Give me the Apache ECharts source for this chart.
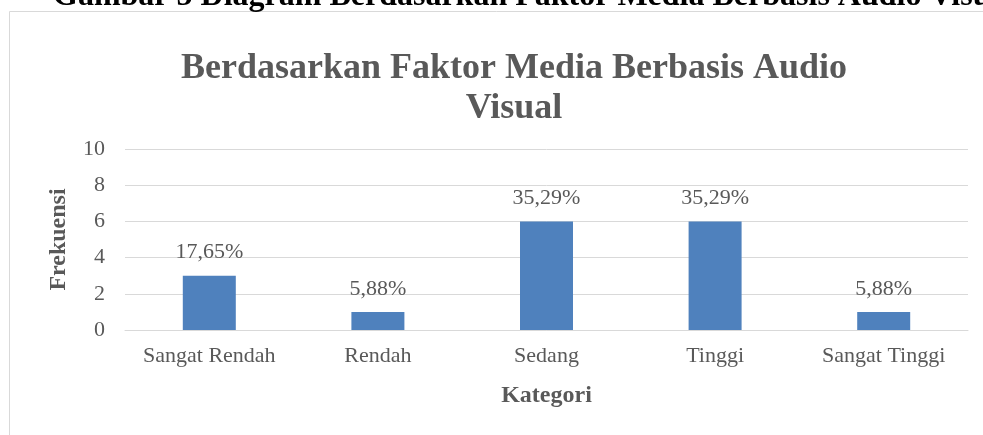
<!DOCTYPE html>
<html>
<head>
<meta charset="utf-8">
<script src="https://cdn.jsdelivr.net/npm/echarts@6/dist/echarts.min.js"></script>
<style>
  html, body { margin: 0; padding: 0; background: #fff; }
  #barChart { width: 983px; height: 435px; }
</style>
</head>
<body>
<div id="barChart"></div>
<script>
const categories = ['Sangat Rendah', 'Rendah', 'Sedang', 'Tinggi', 'Sangat Tinggi']
const frekuensi = [3, 1, 6, 6, 1]
const persen = ['17,65%', '5,88%', '35,29%', '35,29%', '5,88%']
const yTicks = [0, 2, 4, 6, 8, 10]

const serif = '"Liberation Serif", "Times New Roman", serif'
const grey = '#595959'

const chart = echarts.init(document.getElementById('barChart'))
chart.setOption({
  animation: false,
  textStyle: { fontFamily: serif },
  graphic: [
    // border of the chart box (only top/left visible)
    {
      type: 'rect',
      shape: { x: 9.5, y: 11.5, width: 1200, height: 800 },
      style: { fill: 'none', stroke: '#d9d9d9', lineWidth: 1 },
      silent: true,
    },
    // caption above the chart, clipped by the page
    {
      type: 'text',
      left: 53,
      top: -19,
      style: {
        text: 'Gambar 5 Diagram Berdasarkan Faktor Media Berbasis Audio Visual',
        font: 'bold 32px ' + serif,
        fill: '#000',
      },
    },
  ],
  title: {
    text: 'Berdasarkan Faktor Media Berbasis Audio\nVisual',
    left: 509,
    top: 44,
    textAlign: 'center',
    textStyle: {
      fontFamily: serif,
      fontSize: 36,
      fontWeight: 'bold',
      color: grey,
      lineHeight: 40,
    },
  },
  grid: {
    left: 125,
    right: 15,
    top: 149,
    bottom: 105,
  },
  xAxis: {
    type: 'category',
    data: categories,
    name: 'Kategori',
    nameLocation: 'middle',
    nameGap: 54,
    nameTextStyle: { fontFamily: serif, fontSize: 24, fontWeight: 'bold', color: grey },
    axisTick: { show: false },
    axisLine: { lineStyle: { color: '#d9d9d9' } },
    axisLabel: { fontFamily: serif, fontSize: 22, color: grey, margin: 15, interval: 0 },
  },
  yAxis: {
    type: 'value',
    min: yTicks[0],
    max: yTicks[yTicks.length - 1],
    interval: 2,
    name: 'Frekuensi',
    nameLocation: 'middle',
    nameGap: 54,
    nameRotate: 90,
    nameTextStyle: { fontFamily: serif, fontSize: 24, fontWeight: 'bold', color: grey },
    axisLine: { show: false },
    axisTick: { show: false },
    axisLabel: { fontFamily: serif, fontSize: 22, color: grey, margin: 20 },
    splitLine: { lineStyle: { color: '#d9d9d9' } },
  },
  series: [
    {
      type: 'bar',
      data: frekuensi,
      barWidth: 53,
      itemStyle: { color: '#4f81bd' },
      label: {
        show: true,
        position: 'top',
        distance: 12,
        fontFamily: serif,
        fontSize: 22,
        color: grey,
        formatter: (p) => persen[p.dataIndex],
      },
    },
  ],
})
</script>
</body>
</html>
